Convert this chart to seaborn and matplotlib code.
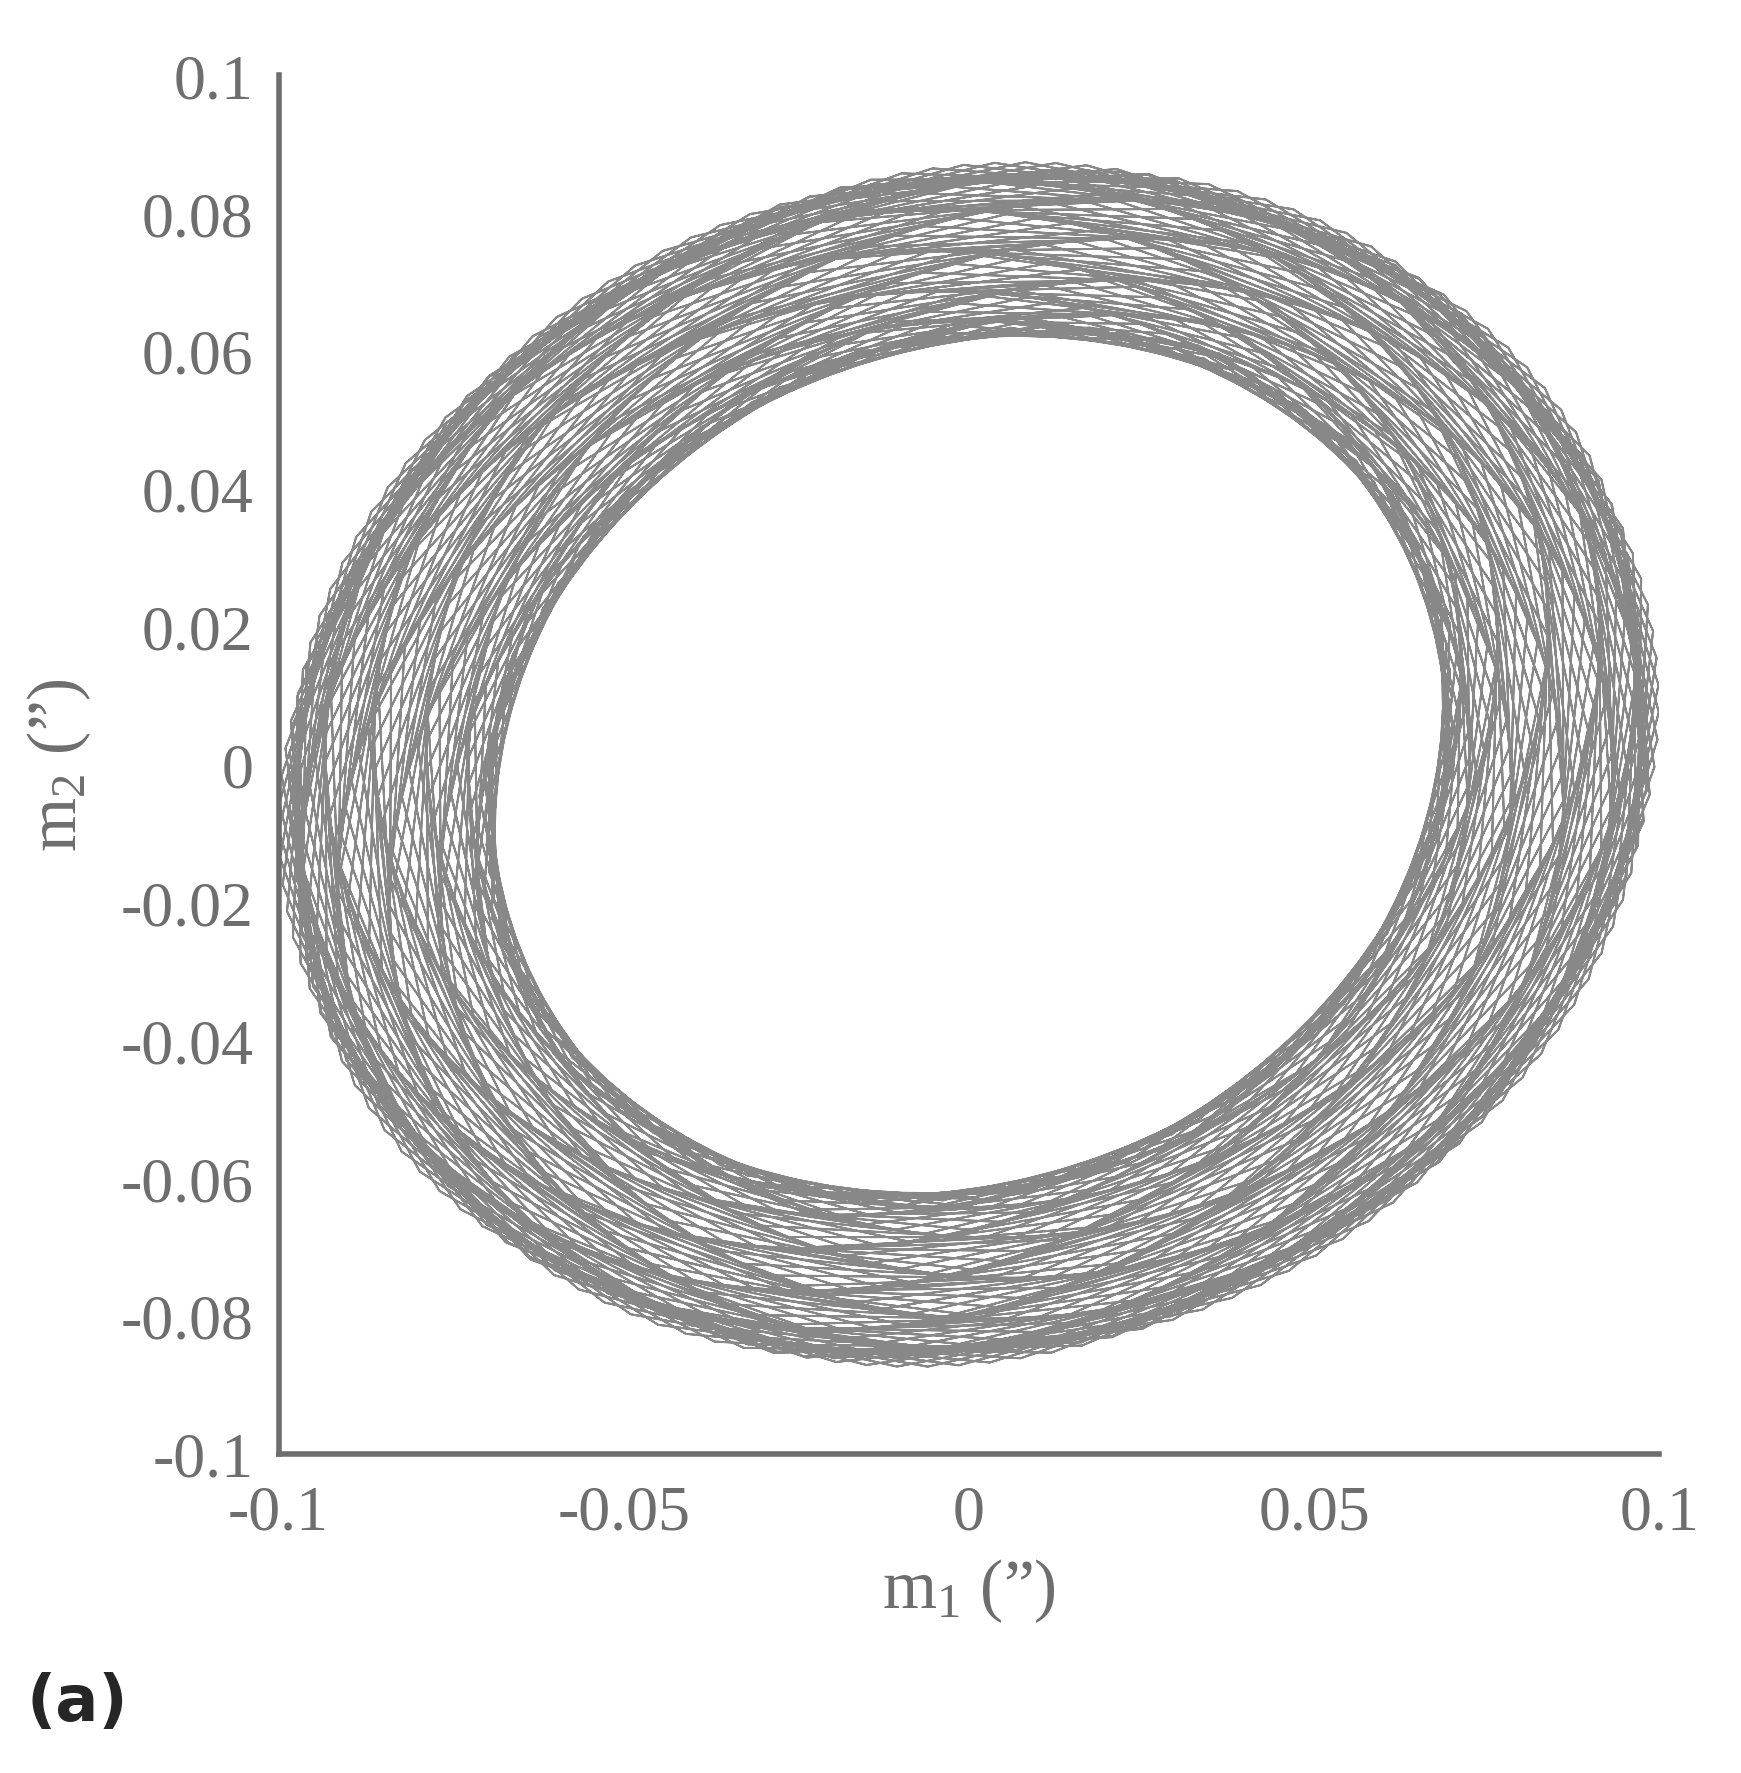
import numpy as np
import matplotlib
matplotlib.use("Agg")
import matplotlib.pyplot as plt
import seaborn as sns

# Components of the motion (arcsec, years)
chandler_ax = [0.085, 0.075]       # Chandler ellipse semi-axes (x, y)
chandler_period = 1.19
annual_ax = [0.015, 0.012]         # annual ellipse semi-axes (x, y)
annual_period = 1.0
years = [0.0, 240.0]
step = 1.0 / 12.0
xticks = [-0.1, -0.05, 0, 0.05, 0.1]
yticks = [-0.1, -0.08, -0.06, -0.04, -0.02, 0, 0.02, 0.04, 0.06, 0.08, 0.1]

t = np.arange(years[0], years[1], step)
wc = 2 * np.pi / chandler_period
wa = 2 * np.pi / annual_period
m1 = chandler_ax[0] * np.cos(wc * t) + annual_ax[0] * np.cos(wa * t + 0.6)
m2 = chandler_ax[1] * np.sin(wc * t) + annual_ax[1] * np.sin(wa * t + 0.6) + 0.008 * np.cos(wc * t)

sns.set_style("white")
plt.rcParams['font.family'] = ['Liberation Serif', 'DejaVu Serif']
plt.rcParams['mathtext.fontset'] = 'custom'
plt.rcParams['mathtext.rm'] = 'Liberation Serif'
plt.rcParams['mathtext.it'] = 'Liberation Serif:italic'
gray = "#6e6e6e"
fig = plt.figure(figsize=(17.41, 17.74), dpi=100)
ax = fig.add_axes([0.160, 0.180, 0.793, 0.777])
sns.lineplot(x=m1, y=m2, sort=False, estimator=None, color="#888888", lw=1.4, ax=ax)
ax.set_xlim(-0.1, 0.1)
ax.set_ylim(-0.1, 0.1)
ax.set_xticks(xticks)
ax.set_xticklabels(["-0.1", "-0.05", "0", "0.05", "0.1"])
ax.set_yticks(yticks)
ax.set_yticklabels(["-0.1", "-0.08", "-0.06", "-0.04", "-0.02", "0", "0.02", "0.04", "0.06", "0.08", "0.1"])
for s in ["top", "right"]:
    ax.spines[s].set_visible(False)
for s in ["left", "bottom"]:
    ax.spines[s].set_color(gray)
    ax.spines[s].set_linewidth(4)
ax.tick_params(direction="in", length=14, width=4, color=gray, labelcolor=gray, labelsize=46)
ax.tick_params(axis="x", pad=22)
ax.tick_params(axis="y", pad=18)
ax.set_xlabel("m$_\\mathrm{1}$ (\u201d)", fontsize=50, color=gray, labelpad=10)
ax.set_ylabel("m$_\\mathrm{2}$ (\u201d)", fontsize=50, color=gray, labelpad=20)
fig.text(0.015, 0.03, "(a)", fontsize=46, fontweight="bold", family=["DejaVu Sans"])
fig.savefig("out.png", dpi=100)
